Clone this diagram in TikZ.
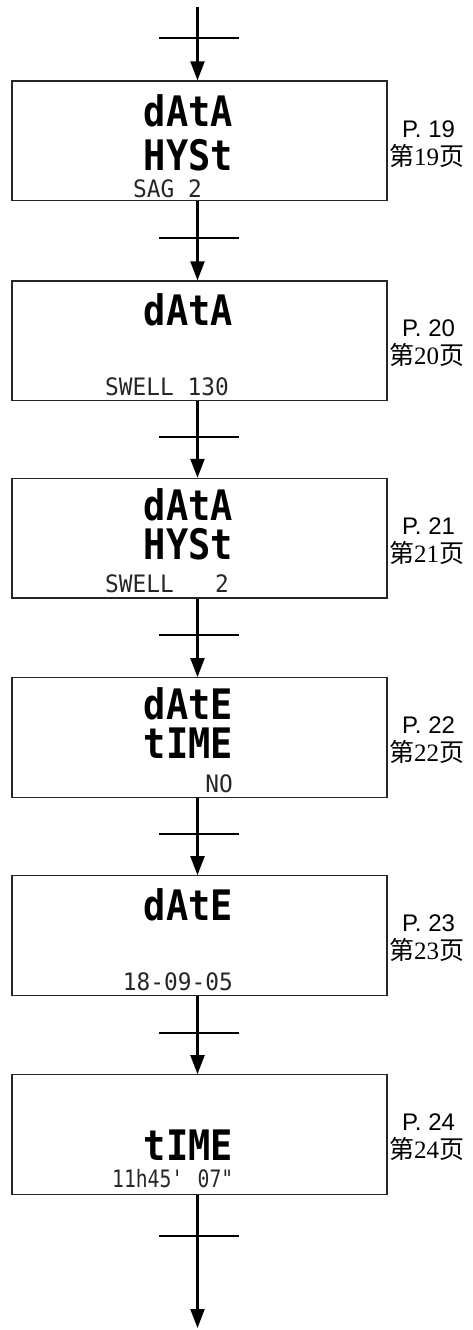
\documentclass[tikz,border=0pt]{standalone}
\usepackage{fontspec}
\usetikzlibrary{arrows.meta}
\setmainfont{Liberation Sans}
\newfontfamily\lcdbig[FakeStretch=0.88]{DejaVu Sans Mono}
\newfontfamily\lcdsmall[FakeStretch=0.95]{DejaVu Sans Mono}
\newfontfamily\lcdsmallc[FakeStretch=0.82]{DejaVu Sans Mono}
\newfontfamily\cjk{Noto Sans CJK SC}
\newfontfamily\serifnum{Liberation Serif}
\tikzset{
  screen/.style={draw=black!85, line width=1.3pt, minimum width=375pt, minimum height=119.5pt, inner sep=0pt},
  big/.style={font=\lcdbig\bfseries\fontsize{42}{42}\selectfont, anchor=base east, inner sep=0pt, text height=30pt, text depth=0pt},
  small/.style={font=\lcdsmall\fontsize{24}{24}\selectfont, inner sep=0pt, text=black!85, text height=18pt, text depth=0pt},
  pg/.style={font=\fontsize{24}{24}\selectfont, anchor=base, inner sep=0pt},
  cn/.style={font=\fontsize{25}{25}\selectfont, anchor=base, inner sep=0pt},
  flow/.style={line width=2.2pt, -{Triangle[length=19pt,width=14pt]}},
  crossbar/.style={line width=2pt}
}
\begin{document}
\begin{tikzpicture}[x=1pt,y=-1pt]
\useasboundingbox (0,0) rectangle (472,1330);
% boxes
\node[screen] (b1) at (199.5,140.75) {};
\node[screen] (b2) at (199.5,340.75) {};
\node[screen] (b3) at (199.5,538.25) {};
\node[screen] (b4) at (199.5,737.5) {};
\node[screen] (b5) at (199.5,935.5) {};
\node[screen] (b6) at (199.5,1134.5) {};
% box 1
\node[big] (t1a) at (233,126) {dAtA};
\node[big] (t1b) at (233,170) {HYSt};
\node[small, anchor=base west] (s1) at (133,197) {SAG 2};
% box 2
\node[big] (t2a) at (233,325) {dAtA};
\node[small, anchor=base west] (s2) at (105,395) {SWELL 130};
% box 3
\node[big] (t3a) at (233,520) {dAtA};
\node[big] (t3b) at (233,559) {HYSt};
\node[small, anchor=base west] (s3) at (105,592) {SWELL\ \ \ 2};
% box 4
\node[big] (t4a) at (233,719) {dAtE};
\node[big] (t4b) at (233,758) {tIME};
\node[small, anchor=base east] (s4) at (233,792) {NO};
% box 5
\node[big] (t5a) at (233,920) {dAtE};
\node[small, anchor=base east] (s5) at (233,990) {18-09-05};
% box 6
\node[big] (t6b) at (233,1160) {tIME};
\node[small, font=\lcdsmallc\fontsize{24}{24}\selectfont, anchor=base west] (s6) at (112,1187) {11h45\textquotesingle\ 07\textquotedbl};
% page labels
\node[pg] (p1) at (428.5,137) {P. 19};
\node[cn] (c1) at (426.5,165) {{\cjk 第}{\serifnum 19}{\cjk 页}};
\node[pg] (p2) at (428.5,336) {P. 20};
\node[cn] (c2) at (426.5,364) {{\cjk 第}{\serifnum 20}{\cjk 页}};
\node[pg] (p3) at (428.5,534) {P. 21};
\node[cn] (c3) at (426.5,562) {{\cjk 第}{\serifnum 21}{\cjk 页}};
\node[pg] (p4) at (428.5,733) {P. 22};
\node[cn] (c4) at (426.5,761) {{\cjk 第}{\serifnum 22}{\cjk 页}};
\node[pg] (p5) at (428.5,931) {P. 23};
\node[cn] (c5) at (426.5,959) {{\cjk 第}{\serifnum 23}{\cjk 页}};
\node[pg] (p6) at (428.5,1130) {P. 24};
\node[cn] (c6) at (426.5,1158) {{\cjk 第}{\serifnum 24}{\cjk 页}};
% arrows
\coordinate (ax) at (197.5,0);
\coordinate (start) at (197.5,7);
\coordinate (finish) at (197.5,1328);
\draw[flow] (start) -- (b1.north -| ax);
\draw[flow] (b1.south -| ax) -- (b2.north -| ax);
\draw[flow] (b2.south -| ax) -- (b3.north -| ax);
\draw[flow] (b3.south -| ax) -- (b4.north -| ax);
\draw[flow] (b4.south -| ax) -- (b5.north -| ax);
\draw[flow] (b5.south -| ax) -- (b6.north -| ax);
\draw[flow] (b6.south -| ax) -- (finish);
% crossbars
\foreach \yy in {38,238,437,635,834,1033,1236}
  \draw[crossbar] (159,\yy) -- (239,\yy);
\end{tikzpicture}
\end{document}
